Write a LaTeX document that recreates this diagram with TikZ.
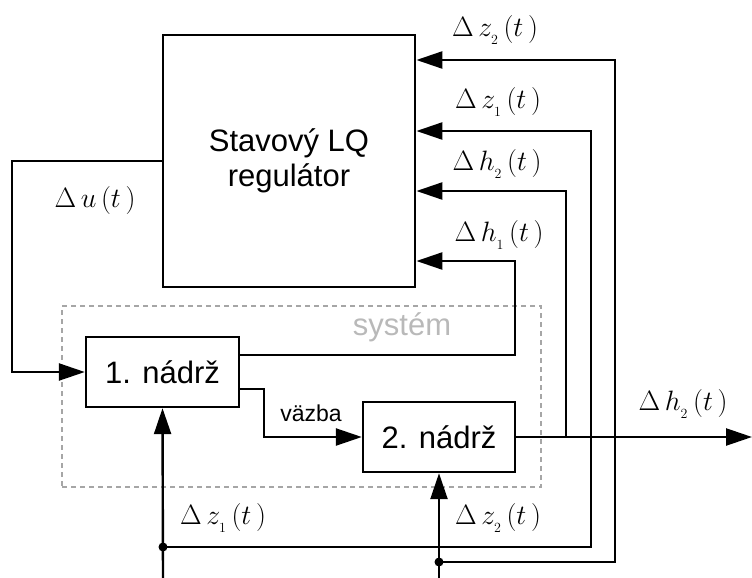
\RequirePackage{fix-cm}
\documentclass[tikz,border=0pt]{standalone}
\usepackage{fontspec}
\setmainfont{Liberation Sans}
\usetikzlibrary{arrows.meta,calc}
\begin{document}
\begin{tikzpicture}[x=1pt,y=-1pt,
 box/.style={draw,line width=2.4pt,inner sep=0pt,font=\fontsize{31}{35}\selectfont,align=center},
 wire/.style={line width=2.4pt},
 arr/.style={wire,-{Triangle[length=26pt,width=17pt]}},
 lbl/.style={font=\fontsize{28}{32}\selectfont,inner sep=0pt},
 dot/.style={circle,fill,inner sep=0pt,minimum size=9pt}]
\useasboundingbox (0,0) rectangle (752,578);
% dashed system frame
\node[draw=gray!70,dash pattern=on 5pt off 4pt,line width=1.6pt,minimum width=479pt,minimum height=181pt,inner sep=0pt] (sys) at (301.5,396.5) {};
\node[font=\fontsize{31}{35}\selectfont,text=gray!55] (syslbl) at (402,327) {systém};
% blocks
\node[box,minimum width=252pt,minimum height=252pt,line width=2.8pt] (reg) at (289,161) {Stavový LQ\\regulátor};
\node[box,minimum width=153pt,minimum height=70pt] (t1) at (162.5,372) {1. nádrž};
\node[box,minimum width=152pt,minimum height=70pt] (t2) at (439,437) {2. nádrž};
% coordinates
\coordinate (uL) at (12,161);
\coordinate (h1c) at (515,261);
\coordinate (vz) at (264,389);
\coordinate (out) at (752,437);
\coordinate (J) at (566,437);
\coordinate (h2c) at (566,191);
\coordinate (z1b) at (163,578);
\coordinate (z1c) at (591,131);
\coordinate (z2b) at (439,578);
\coordinate (z2c) at (615,60);
\node[dot] (d1) at (163,547) {};
\node[dot] (d2) at (439,562) {};
% connectors
\draw[arr] (reg.west) -- (uL) |- (t1.west);
\draw[arr] (t1.east |- 0,355) -| (h1c) -- (reg.east |- h1c);
\draw[arr] (t1.east |- vz) -- (vz) |- (t2.west);
\draw[arr] (t2.east) -- (out);
\draw[arr] (J) -- (h2c) -- (reg.east |- h2c);
\draw[arr] (z1b) -- (t1.south);
\draw[arr] (d1.center) -| (z1c) -- (reg.east |- z1c);
\draw[arr] (z2b) -- (t2.south);
\draw[arr] (d2.center) -| (z2c) -- (reg.east |- z2c);
% labels
\node[font=\fontsize{23}{26}\selectfont] (vzl) at (311,413) {väzba};
\node[lbl] (lu) at (95,200) {$\Delta\,u\,(t\,)$};
\node[lbl] (lz2t) at (495,30) {$\Delta\,z_{{}_2}\,(t\,)$};
\node[lbl] (lz1t) at (498,102) {$\Delta\,z_{{}_1}\,(t\,)$};
\node[lbl] (lh2t) at (497,164) {$\Delta\,h_{{}_2}\,(t\,)$};
\node[lbl] (lh1t) at (499,235) {$\Delta\,h_{{}_1}\,(t\,)$};
\node[lbl] (lh2o) at (683,404) {$\Delta\,h_{{}_2}\,(t\,)$};
\node[lbl] (lz1b) at (223,518) {$\Delta\,z_{{}_1}\,(t\,)$};
\node[lbl] (lz2b) at (498,518) {$\Delta\,z_{{}_2}\,(t\,)$};
\end{tikzpicture}
\end{document}
